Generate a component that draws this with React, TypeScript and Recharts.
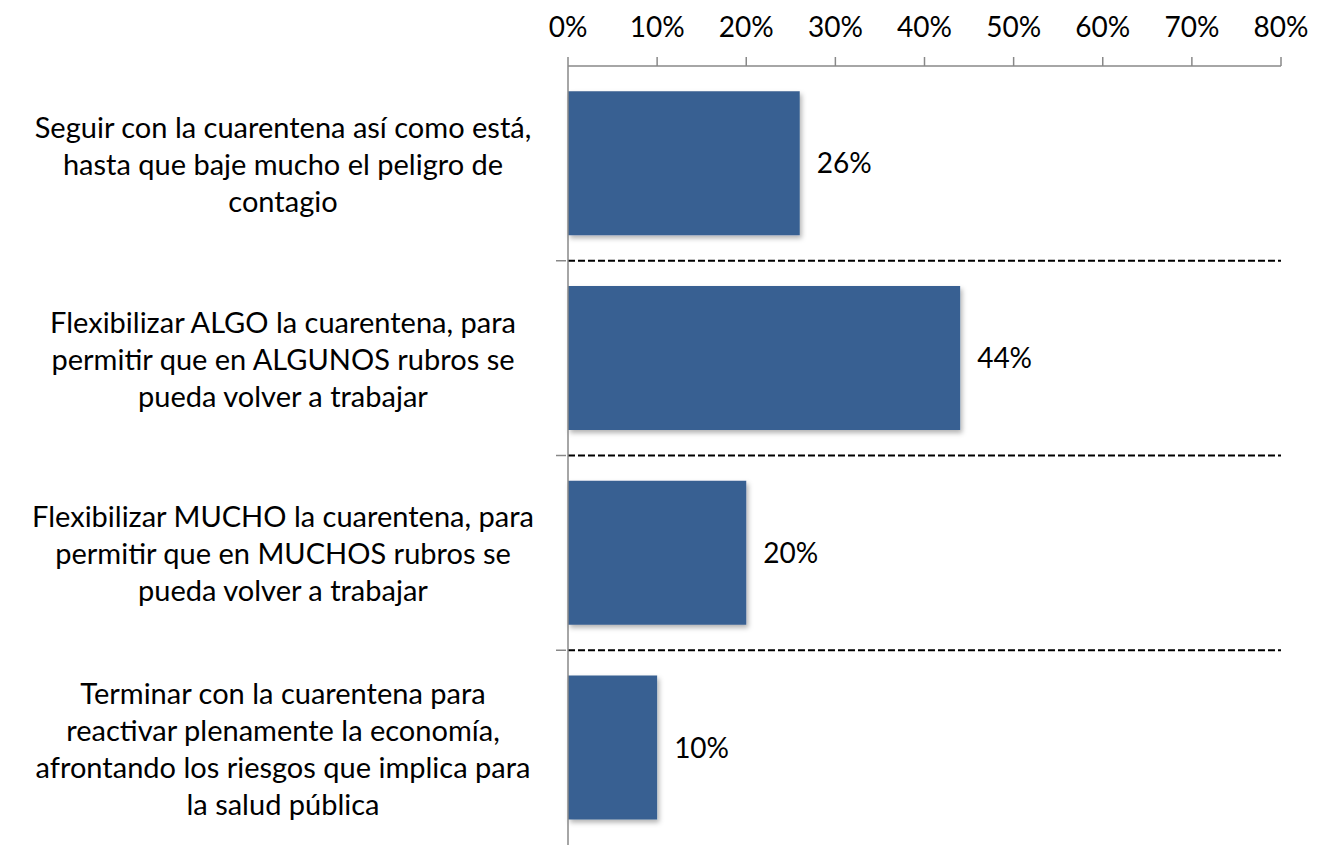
import { BarChart, Bar, CartesianGrid, LabelList, XAxis, YAxis } from "recharts"

const categories = [
  "Seguir con la cuarentena así como está,\nhasta que baje mucho el peligro de\ncontagio",
  "Flexibilizar ALGO la cuarentena, para\npermitir que en ALGUNOS rubros se\npueda volver a trabajar",
  "Flexibilizar MUCHO la cuarentena, para\npermitir que en MUCHOS rubros se\npueda volver a trabajar",
  "Terminar con la cuarentena para\nreactivar plenamente la economía,\nafrontando los riesgos que implica para\nla salud pública",
]
const values = [26, 44, 20, 10]
const xTicks = [0, 10, 20, 30, 40, 50, 60, 70, 80]

const data = categories.map((name, i) => ({ name, value: values[i] }))

const FONT = "Lato, 'Open Sans', sans-serif"

// dashed separators sit on the band edges between categories
const bandEdges = ({ offset }: any) =>
  categories.slice(1).map((_, k) => offset.top + ((k + 1) * offset.height) / categories.length)

function CategoryTick({ x, y, payload, index }: any) {
  const lines: string[] = String(payload.value).split("\n")
  const lineHeight = 37
  const half = payload.offset
  return (
    <g>
      {index > 0 && half ? (
        <line x1={x - 10} x2={x} y1={y - half} y2={y - half} stroke="#888" strokeWidth={1.5} />
      ) : null}
      {lines.map((line, i) => (
        <text
          key={i}
          x={283}
          y={y + (i - (lines.length - 1) / 2) * lineHeight}
          textAnchor="middle"
          dominantBaseline="central"
          fontSize={29}
          fontFamily={FONT}
          fill="#000"
        >
          {line}
        </text>
      ))}
    </g>
  )
}

function App() {
  return (
    <div style={{ position: "absolute", left: 0, top: 0, background: "#fff" }}>
      <BarChart
        width={1326}
        height={845}
        data={data}
        layout="vertical"
        margin={{ top: 0, right: 45, bottom: 0, left: 0 }}
        barCategoryGap="13%"
      >
        <defs>
          <filter id="barShadow" x="-10%" y="-10%" width="130%" height="130%">
            <feDropShadow dx="2" dy="3" stdDeviation="2.5" floodColor="#000" floodOpacity="0.3" />
          </filter>
        </defs>
        <CartesianGrid
          vertical={false}
          horizontalCoordinatesGenerator={bandEdges}
          stroke="#000"
          strokeWidth={2}
          strokeDasharray="7 3"
        />
        <YAxis
          type="category"
          dataKey="name"
          width={568}
          tick={<CategoryTick />}
          tickLine={false}
          tickSize={0}
          axisLine={{ stroke: "#888", strokeWidth: 1.5 }}
          interval={0}
        />
        <XAxis
          type="number"
          orientation="top"
          domain={[0, 80]}
          ticks={xTicks}
          height={66}
          tickFormatter={(v) => `${v}%`}
          tickSize={9}
          tickMargin={20}
          axisLine={{ stroke: "#888", strokeWidth: 1.5 }}
          tickLine={{ stroke: "#888", strokeWidth: 1.5 }}
          tick={{ fontSize: 28, fontFamily: FONT, fill: "#000" }}
        />
        <Bar dataKey="value" fill="#386192" filter="url(#barShadow)" isAnimationActive={false}>
          <LabelList
            dataKey="value"
            position="right"
            offset={17}
            formatter={(v: any) => `${v}%`}
            style={{ fontSize: 28, fontFamily: FONT, fill: "#000" }}
          />
        </Bar>
      </BarChart>
    </div>
  )
}

export default App
